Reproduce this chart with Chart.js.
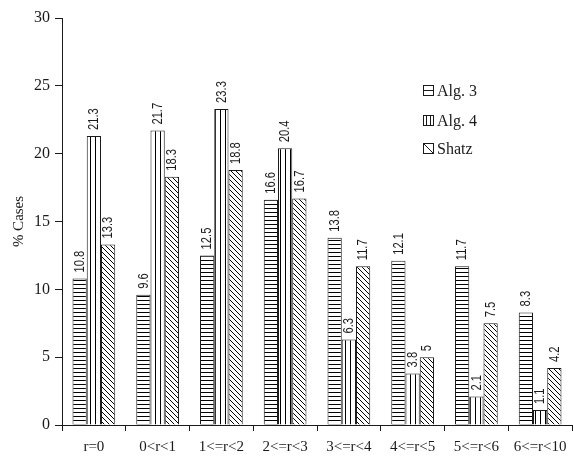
<!DOCTYPE html>
<html>
<head>
<meta charset="utf-8">
<script src="https://cdn.jsdelivr.net/npm/chart.js@4/dist/chart.umd.min.js"></script>
<style>
  html, body { margin: 0; padding: 0; background: #fff; }
  #wrap { width: 574px; height: 458px; }
</style>
</head>
<body>
<div id="wrap"><canvas id="c" width="574" height="458"></canvas></div>
<script>
// Ranges of r
const categories = ["r=0", "0<r<1", "1<=r<2", "2<=r<3", "3<=r<4", "4<=r<5", "5<=r<6", "6<=r<10"];
// Percentage of cases per algorithm
const alg3  = [10.8, 9.6, 12.5, 16.6, 13.8, 12.1, 11.7, 8.3];
const alg4  = [21.3, 21.7, 23.3, 20.4, 6.3, 3.8, 2.1, 1.1];
const shatz = [13.3, 18.3, 18.8, 16.7, 11.7, 5, 7.5, 4.2];
const seriesNames = ["Alg. 3", "Alg. 4", "Shatz"];
const yTicks = [0, 5, 10, 15, 20, 25, 30];

const INK = '#1a1a1a';
const SERIF = '"Liberation Serif", "Times New Roman", serif';
const SANS = '"Liberation Sans", Arial, sans-serif';

// Hatch fills
function hatch(kind) {
  const c = document.createElement('canvas');
  const g = c.getContext('2d');
  g.strokeStyle = INK;
  g.lineWidth = 1;
  if (kind === 'h') {
    c.width = 4; c.height = 4;
    g.fillStyle = '#fff'; g.fillRect(0, 0, 4, 4);
    g.beginPath(); g.moveTo(0, 0.5); g.lineTo(4, 0.5); g.stroke();
  } else if (kind === 'v') {
    c.width = 5; c.height = 5;
    g.fillStyle = '#fff'; g.fillRect(0, 0, 5, 5);
    g.beginPath(); g.moveTo(0.5, 0); g.lineTo(0.5, 5); g.stroke();
  } else {
    c.width = 5; c.height = 5;
    g.fillStyle = '#fff'; g.fillRect(0, 0, 5, 5);
    g.beginPath();
    g.moveTo(-1, -1); g.lineTo(6, 6);
    g.moveTo(-1, 4); g.lineTo(1, 6);
    g.moveTo(4, -1); g.lineTo(6, 1);
    g.stroke();
  }
  return g.createPattern(c, 'repeat');
}

// Rotated value labels on white boxes above each bar
const valueLabels = {
  id: 'valueLabels',
  afterDatasetsDraw(chart) {
    const ctx = chart.ctx;
    const squeeze = 0.8;
    chart.data.datasets.forEach((ds, i) => {
      const meta = chart.getDatasetMeta(i);
      meta.data.forEach((bar, j) => {
        const txt = String(ds.data[j]);
        ctx.save();
        ctx.font = '14px ' + SANS;
        const w = ctx.measureText(txt).width * squeeze;
        ctx.translate(bar.x, bar.y - 1);
        ctx.rotate(-Math.PI / 2);
        ctx.fillStyle = '#fff';
        ctx.fillRect(0, -bar.width / 2 + 1, w + 7, bar.width - 2);
        ctx.fillStyle = INK;
        ctx.textAlign = 'left';
        ctx.textBaseline = 'middle';
        ctx.translate(5, 0.5);
        ctx.scale(squeeze, 1);
        ctx.fillText(txt, 0, 0);
        ctx.restore();
      });
    });
  }
};

// Legend with small hatch icons
const hatchLegend = {
  id: 'hatchLegend',
  afterDraw(chart) {
    const ctx = chart.ctx;
    const x0 = 423, ys = [91, 121, 149];
    chart.data.datasets.forEach((ds, i) => {
      const y = ys[i];
      ctx.save();
      ctx.strokeStyle = INK;
      ctx.lineWidth = 1;
      const l = x0 + 0.5, t = y - 5.5, s = 10;
      ctx.strokeRect(l, t, s, s);
      ctx.beginPath();
      if (i === 0) { ctx.moveTo(l, t + 5); ctx.lineTo(l + s, t + 5); }
      else if (i === 1) { ctx.moveTo(l + 3, t); ctx.lineTo(l + 3, t + s); ctx.moveTo(l + 7, t); ctx.lineTo(l + 7, t + s); }
      else { ctx.moveTo(l, t); ctx.lineTo(l + s, t + s); }
      ctx.stroke();
      ctx.fillStyle = INK;
      ctx.font = '16px ' + SERIF;
      ctx.textAlign = 'left';
      ctx.textBaseline = 'middle';
      ctx.fillText(ds.label, x0 + 14, y + 1);
      ctx.restore();
    });
  }
};

const ctx = document.getElementById('c').getContext('2d');
const fills = [hatch('h'), hatch('v'), hatch('d')];
const values = [alg3, alg4, shatz];

new Chart(ctx, {
  type: 'bar',
  data: {
    labels: categories,
    datasets: values.map((v, i) => ({
      label: seriesNames[i],
      data: v,
      backgroundColor: fills[i],
      borderColor: INK,
      borderWidth: 1,
      categoryPercentage: 0.67,
      barPercentage: 1.0
    }))
  },
  options: {
    responsive: false,
    animation: false,
    devicePixelRatio: 1,
    layout: { padding: { top: 18, right: 2, left: 0, bottom: 0 } },
    plugins: {
      legend: { display: false },
      tooltip: { enabled: false }
    },
    scales: {
      x: {
        grid: { offset: true, drawOnChartArea: false, tickLength: 6, color: INK, lineWidth: 1 },
        border: { display: true, color: INK, width: 1 },
        ticks: { color: INK, font: { family: SERIF, size: 15 }, padding: 7, maxRotation: 0, autoSkip: false },
        afterFit(s) { s.height = 33; }
      },
      y: {
        min: 0, max: 30,
        afterBuildTicks(s) { s.ticks = yTicks.map(v => ({ value: v })); },
        grid: { drawOnChartArea: false, tickLength: 7, color: INK, lineWidth: 1 },
        border: { display: true, color: INK, width: 1 },
        ticks: { color: INK, font: { family: SERIF, size: 16 }, padding: 5 },
        title: { display: true, text: '% Cases', color: INK, font: { family: SERIF, size: 15 }, padding: { top: 10, bottom: 0 } },
        afterFit(s) { s.width = 62; }
      }
    }
  },
  plugins: [valueLabels, hatchLegend]
});
</script>
</body>
</html>
